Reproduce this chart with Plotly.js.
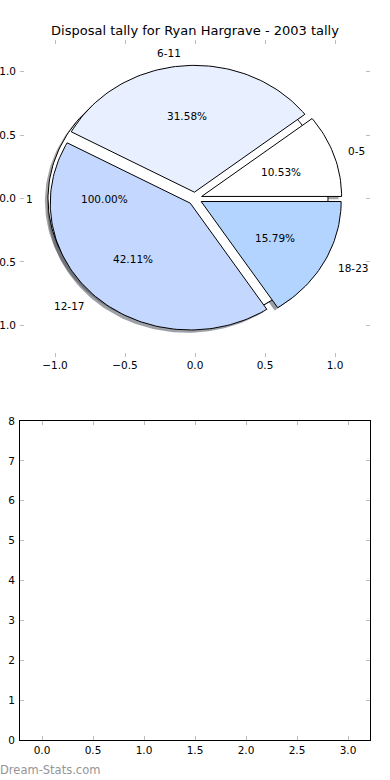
<!DOCTYPE html>
<html>
<head>
<meta charset="utf-8">
<script src="https://cdn.plot.ly/plotly-3.0.1.min.js"></script>
<style>
  html, body { margin: 0; padding: 0; background: #ffffff; }
  #chart { width: 390px; height: 780px; }
</style>
</head>
<body>
<div id="chart"></div>
<script>
// ---- data ----
const categories = ['0-5', '6-11', '12-17', '18-23'];
const counts = [2, 6, 8, 3];
const explode = [0.05, 0.05, 0.05, 0.05];
const sliceColors = ['#ffffff', '#e8f0ff', '#c4d8ff', '#b3d4ff'];
const totalLabels = ['1'];
const totalValues = [1];
const totalExplode = [0.05];
const titleText = 'Disposal tally for Ryan Hargrave - 2003 tally';
const pieTicks = [-1.0, -0.5, 0.0, 0.5, 1.0];
const lowerXTicks = [0.0, 0.5, 1.0, 1.5, 2.0, 2.5, 3.0];
const lowerYTicks = [0, 1, 2, 3, 4, 5, 6, 7, 8];

// ---- geometry helpers (matplotlib-style pie in data units) ----
const FONT = 'DejaVu Sans, sans-serif';
const SHADOW = -0.022;
function pieWedges(values, expl) {
  const total = values.reduce((a, b) => a + b, 0);
  let t1 = 0;
  return values.map((v, i) => {
    const t2 = t1 + 360 * v / total;
    const tm = (t1 + t2) / 2 * Math.PI / 180;
    const cx = expl[i] * Math.cos(tm), cy = expl[i] * Math.sin(tm);
    const w = { t1, t2, tm, cx, cy, frac: v / total };
    t1 = t2;
    return w;
  });
}
function wedgePath(w, dx, dy) {
  const xs = [], ys = [];
  const full = (w.t2 - w.t1) >= 359.999;
  if (!full) { xs.push(w.cx + dx); ys.push(w.cy + dy); }
  const n = Math.max(8, Math.ceil((w.t2 - w.t1) / 1.5));
  for (let k = 0; k <= n; k++) {
    const a = (w.t1 + (w.t2 - w.t1) * k / n) * Math.PI / 180;
    xs.push(w.cx + dx + Math.cos(a)); ys.push(w.cy + dy + Math.sin(a));
  }
  if (!full) { xs.push(w.cx + dx); ys.push(w.cy + dy); }
  return { xs, ys };
}
function shadowColor(hex) {
  const r = parseInt(hex.slice(1, 3), 16), g = parseInt(hex.slice(3, 5), 16), b = parseInt(hex.slice(5, 7), 16);
  return 'rgba(' + Math.round(r * 0.3) + ',' + Math.round(g * 0.3) + ',' + Math.round(b * 0.3) + ',0.5)';
}

const mainW = pieWedges(counts, explode);
const totW = pieWedges(totalValues, totalExplode);
const traces = [];
const annotations = [];

function addShadow(w, color) {
  const p = wedgePath(w, SHADOW, SHADOW);
  traces.push({ type: 'scatter', mode: 'lines', x: p.xs, y: p.ys, fill: 'toself',
    fillcolor: shadowColor(color), line: { width: 0, color: 'rgba(0,0,0,0)' },
    hoverinfo: 'skip', showlegend: false, xaxis: 'x', yaxis: 'y' });
}
function addWedge(w, color) {
  const p = wedgePath(w, 0, 0);
  traces.push({ type: 'scatter', mode: 'lines', x: p.xs, y: p.ys, fill: 'toself',
    fillcolor: color, line: { width: 1, color: '#000000' },
    hoverinfo: 'skip', showlegend: false, xaxis: 'x', yaxis: 'y' });
}
function addLabels(w, label) {
  const lx = w.cx + 1.1 * Math.cos(w.tm), ly = w.cy + 1.1 * Math.sin(w.tm);
  annotations.push({ x: lx, y: ly, xref: 'x', yref: 'y', text: label, showarrow: false,
    xanchor: lx > 0 ? 'left' : 'right', yanchor: 'middle', borderpad: 0,
    font: { family: FONT, size: 10.5, color: '#000' } });
  const px = w.cx + 0.6 * Math.cos(w.tm), py = w.cy + 0.6 * Math.sin(w.tm);
  annotations.push({ x: px, y: py, xref: 'x', yref: 'y', text: (w.frac * 100).toFixed(2) + '%',
    showarrow: false, xanchor: 'center', yanchor: 'middle', borderpad: 0,
    font: { family: FONT, size: 10.5, color: '#000' } });
}

// shadows first (lowest), then the full-circle pie, then the main pie
totW.forEach((w, i) => addShadow(w, sliceColors[i % sliceColors.length]));
mainW.forEach((w, i) => addShadow(w, sliceColors[i]));
totW.forEach((w, i) => addWedge(w, sliceColors[i % sliceColors.length]));
mainW.forEach((w, i) => addWedge(w, sliceColors[i]));
totW.forEach((w, i) => addLabels(w, totalLabels[i]));
mainW.forEach((w, i) => addLabels(w, categories[i]));

// empty lower axes
traces.push({ type: 'scatter', mode: 'markers', x: [], y: [], xaxis: 'x2', yaxis: 'y2',
  hoverinfo: 'skip', showlegend: false });

const W = 390, H = 780;
function ydom(topPx, botPx) { return [1 - botPx / H, 1 - topPx / H]; }

annotations.push({ x: -1 / W, y: 1 - 770 / H, xref: 'paper', yref: 'paper', text: 'Dream-Stats.com',
  showarrow: false, xanchor: 'left', yanchor: 'middle', borderpad: 0,
  font: { family: FONT, size: 11.5, color: '#959595' } });

const tickCommon = {
  ticks: 'inside', ticklen: 4, tickwidth: 1, tickcolor: '#bdbdbd',
  showgrid: false, zeroline: false, fixedrange: true,
  tickfont: { family: FONT, size: 10.5, color: '#000' }
};

const layout = {
  width: W, height: H,
  margin: { l: 0, r: 0, t: 0, b: 0 },
  paper_bgcolor: '#ffffff', plot_bgcolor: 'rgba(0,0,0,0)',
  showlegend: false,
  title: { text: titleText, x: 0.5, xanchor: 'center', y: 1 - 30 / H, yanchor: 'middle',
    font: { family: FONT, size: 13, color: '#000' } },
  xaxis: Object.assign({}, tickCommon, { domain: [20 / W, 370 / W], range: [-1.25, 1.25],
    tickvals: pieTicks, tickformat: '.1f', showline: false, mirror: 'ticks', anchor: 'y' }),
  yaxis: Object.assign({}, tickCommon, { domain: ydom(40, 357), range: [-1.25, 1.25],
    tickvals: pieTicks, tickformat: '.1f', showline: false, mirror: 'ticks', anchor: 'x',
    ticklabelstandoff: 3 }),
  xaxis2: Object.assign({}, tickCommon, { domain: [20 / W, 370 / W], range: [-0.2157, 3.2157],
    tickvals: lowerXTicks, tickformat: '.1f', showline: true, linecolor: '#000', linewidth: 1,
    mirror: 'ticks', anchor: 'y2' }),
  yaxis2: Object.assign({}, tickCommon, { domain: ydom(421, 740), range: [0, 8],
    tickvals: lowerYTicks, tickformat: 'd', showline: true, linecolor: '#000', linewidth: 1,
    mirror: 'ticks', anchor: 'x2', ticklabelstandoff: 2 }),
  annotations: annotations,
  hovermode: false
};

Plotly.newPlot('chart', traces, layout, { displayModeBar: false, staticPlot: true });
</script>
</body>
</html>
